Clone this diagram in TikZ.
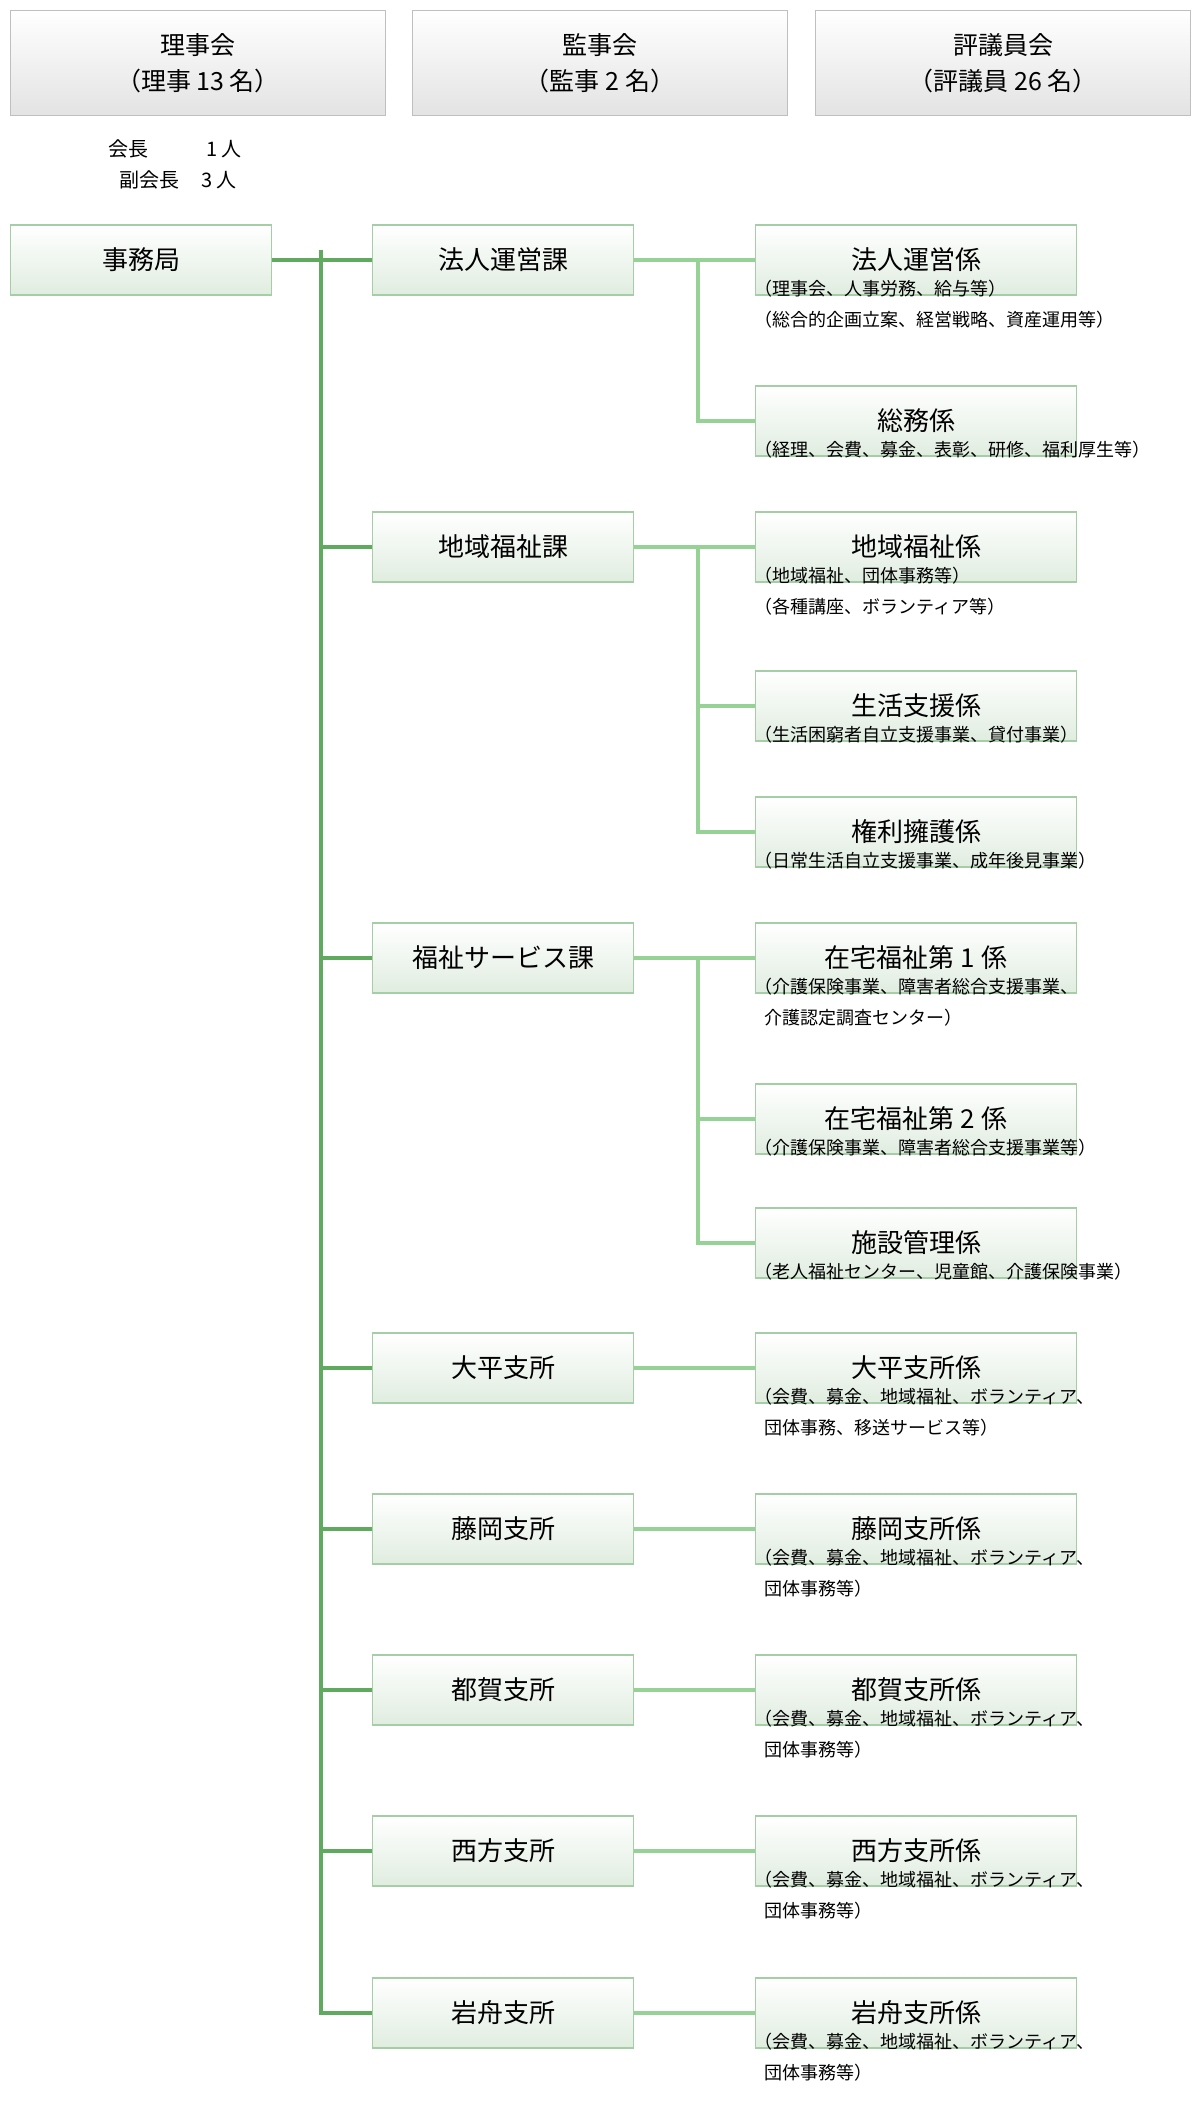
\documentclass[tikz,border=0pt]{standalone}
\usepackage{fontspec}
\setmainfont{Noto Sans CJK JP}
\begin{document}
\begin{tikzpicture}[x=1pt,y=-1pt,
  topbox/.style={draw=black!25,line width=1.5pt,top color=white,bottom color=black!11,minimum width=375,minimum height=105,inner sep=0,align=center,font=\fontsize{25}{36}\selectfont},
  gbox/.style={draw=green!45!black!35,line width=1.5pt,top color=white,bottom color=green!40!black!12,minimum height=70,inner sep=0,font=\fontsize{26}{30}\selectfont},
  midbox/.style={gbox,minimum width=261},
  rbox/.style={gbox,minimum width=321},
  desc/.style={anchor=north west,inner sep=0,align=left,font=\fontsize{18}{31}\selectfont},
  trunk/.style={draw={rgb,255:red,95;green,170;blue,95},line width=3.5pt},
  twig/.style={draw={rgb,255:red,150;green,210;blue,150},line width=3.5pt}]
\useasboundingbox (0,0) rectangle (1200,2120);
\node[topbox] (t1) at (198,63) {理事会\\（理事 13 名）};
\node[topbox] (t2) at (600,63) {監事会\\（監事 2 名）};
\node[topbox] (t3) at (1003,63) {評議員会\\（評議員 26 名）};
\node[anchor=west,inner sep=0,font=\fontsize{20}{24}\selectfont] (k1) at (108,149) {会長\hspace{58pt}1 人};
\node[anchor=west,inner sep=0,font=\fontsize{20}{24}\selectfont] (k2) at (119,180) {副会長\hspace{22pt}3 人};
\node[gbox,minimum width=261] (jim) at (141,260) {事務局};
\coordinate (trt) at (321,250);
\coordinate (trb) at (321,2015);
% middle
\node[midbox] (m1) at (503,260) {法人運営課};
\node[midbox] (m2) at (503,547) {地域福祉課};
\node[midbox] (m3) at (503,958) {福祉サービス課};
\node[midbox] (m4) at (503,1368) {大平支所};
\node[midbox] (m5) at (503,1529) {藤岡支所};
\node[midbox] (m6) at (503,1690) {都賀支所};
\node[midbox] (m7) at (503,1851) {西方支所};
\node[midbox] (m8) at (503,2013) {岩舟支所};
% right
\node[rbox] (r1) at (916,260) {法人運営係};
\node[rbox] (r2) at (916,421) {総務係};
\node[rbox] (r3) at (916,547) {地域福祉係};
\node[rbox] (r4) at (916,706) {生活支援係};
\node[rbox] (r5) at (916,832) {権利擁護係};
\node[rbox] (r6) at (916,958) {在宅福祉第 1 係};
\node[rbox] (r7) at (916,1119) {在宅福祉第 2 係};
\node[rbox] (r8) at (916,1243) {施設管理係};
\node[rbox] (r9) at (916,1368) {大平支所係};
\node[rbox] (r10) at (916,1529) {藤岡支所係};
\node[rbox] (r11) at (916,1690) {都賀支所係};
\node[rbox] (r12) at (916,1851) {西方支所係};
\node[rbox] (r13) at (916,2013) {岩舟支所係};
% descriptions
\node[desc] (d1) at ([yshift=16]r1.south west) {（理事会、人事労務、給与等）\\（総合的企画立案、経営戦略、資産運用等）};
\node[desc] (d2) at ([yshift=16]r2.south west) {（経理、会費、募金、表彰、研修、福利厚生等）};
\node[desc] (d3) at ([yshift=16]r3.south west) {（地域福祉、団体事務等）\\（各種講座、ボランティア等）};
\node[desc] (d4) at ([yshift=16]r4.south west) {（生活困窮者自立支援事業、貸付事業）};
\node[desc] (d5) at ([yshift=16]r5.south west) {（日常生活自立支援事業、成年後見事業）};
\node[desc] (d6) at ([yshift=16]r6.south west) {（介護保険事業、障害者総合支援事業、\\\hspace*{10pt}介護認定調査センター）};
\node[desc] (d7) at ([yshift=16]r7.south west) {（介護保険事業、障害者総合支援事業等）};
\node[desc] (d8) at ([yshift=16]r8.south west) {（老人福祉センター、児童館、介護保険事業）};
\node[desc] (d9) at ([yshift=16]r9.south west) {（会費、募金、地域福祉、ボランティア、\\\hspace*{10pt}団体事務、移送サービス等）};
\node[desc] (d10) at ([yshift=16]r10.south west) {（会費、募金、地域福祉、ボランティア、\\\hspace*{10pt}団体事務等）};
\node[desc] (d11) at ([yshift=16]r11.south west) {（会費、募金、地域福祉、ボランティア、\\\hspace*{10pt}団体事務等）};
\node[desc] (d12) at ([yshift=16]r12.south west) {（会費、募金、地域福祉、ボランティア、\\\hspace*{10pt}団体事務等）};
\node[desc] (d13) at ([yshift=16]r13.south west) {（会費、募金、地域福祉、ボランティア、\\\hspace*{10pt}団体事務等）};
% trunk
\draw[trunk] (trt) -- (trb);
\draw[trunk] (jim.east) -- (m1.west);
\foreach \m in {m2,m3,m4,m5,m6,m7,m8}{\draw[trunk] (trt |- \m.west) -- (\m.west);}
% twigs
\draw[twig] (m1.east) -- (r1.west);
\draw[twig] (698,260) |- (r2.west);
\draw[twig] (m2.east) -- (r3.west);
\draw[twig] (698,547) |- (r5.west);
\draw[twig] (698,706) -- (r4.west);
\draw[twig] (m3.east) -- (r6.west);
\draw[twig] (698,958) |- (r8.west);
\draw[twig] (698,1119) -- (r7.west);
\foreach \i/\j in {4/9,5/10,6/11,7/12,8/13}{\draw[twig] (m\i.east) -- (r\j.west);}
\end{tikzpicture}
\end{document}
